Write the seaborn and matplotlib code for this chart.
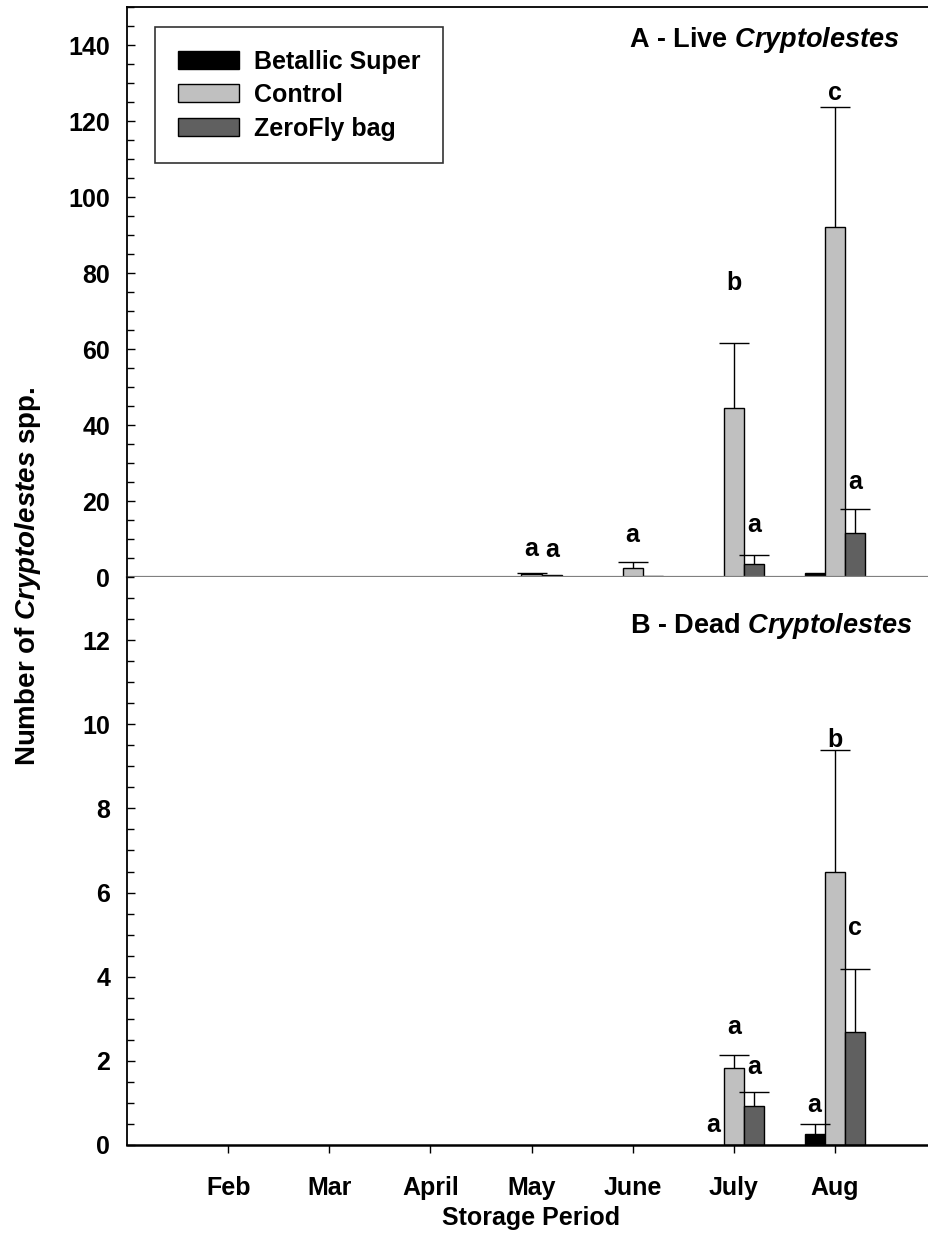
import numpy as np
import pandas as pd
import matplotlib
matplotlib.use("Agg")
import matplotlib.pyplot as plt
from matplotlib.container import BarContainer
from matplotlib.ticker import MultipleLocator
import seaborn as sns

# ---- data ------------------------------------------------------------------
months = ["Feb", "Mar", "April", "May", "June", "July", "Aug"]
treatments = ["Betallic Super", "Control", "ZeroFly bag"]

live_betallic = [0, 0, 0, 0, 0, 0, 1.0]
live_control = [0, 0, 0, 0.8, 2.4, 44.6, 92.1]
live_zerofly = [0, 0, 0, 0.4, 0.2, 3.3, 11.6]
live_betallic_se = [0, 0, 0, 0, 0, 0, 0]
live_control_se = [0, 0, 0, 0.2, 1.6, 16.9, 31.6]
live_zerofly_se = [0, 0, 0, 0, 0, 2.5, 6.3]

dead_betallic = [0, 0, 0, 0, 0, 0, 0.26]
dead_control = [0, 0, 0, 0, 0, 1.83, 6.5]
dead_zerofly = [0, 0, 0, 0, 0, 0.93, 2.68]
dead_betallic_se = [0, 0, 0, 0, 0, 0, 0.24]
dead_control_se = [0, 0, 0, 0, 0, 0.31, 2.88]
dead_zerofly_se = [0, 0, 0, 0, 0, 0.33, 1.5]

live_letters_betallic = ["", "", "", "", "", "", ""]
live_letters_control = ["", "", "", "a", "a", "b", "c"]
live_letters_zerofly = ["", "", "", "a", "", "a", "a"]
dead_letters_betallic = ["", "", "", "", "", "a", "a"]
dead_letters_control = ["", "", "", "", "", "a", "b"]
dead_letters_zerofly = ["", "", "", "", "", "a", "c"]

colors = {"Betallic Super": "#000000", "Control": "#c0c0c0", "ZeroFly bag": "#606060"}


def long_table(b, c, z):
    return pd.DataFrame({
        "month": months * 3,
        "treatment": np.repeat(treatments, len(months)),
        "value": list(b) + list(c) + list(z),
    })


live_df = long_table(live_betallic, live_control, live_zerofly)
dead_df = long_table(dead_betallic, dead_control, dead_zerofly)
live_se = [live_betallic_se, live_control_se, live_zerofly_se]
dead_se = [dead_betallic_se, dead_control_se, dead_zerofly_se]
live_letters = [live_letters_betallic, live_letters_control, live_letters_zerofly]
dead_letters = [dead_letters_betallic, dead_letters_control, dead_letters_zerofly]

# ---- style -----------------------------------------------------------------
sns.set_style("ticks")
plt.rcParams["font.family"] = ["Liberation Sans", "DejaVu Sans"]
plt.rcParams["font.weight"] = "bold"
plt.rcParams["text.color"] = "black"
plt.rcParams["axes.labelcolor"] = "black"
plt.rcParams["xtick.color"] = "black"
plt.rcParams["ytick.color"] = "black"
plt.rcParams["mathtext.fontset"] = "custom"
plt.rcParams["mathtext.rm"] = "Liberation Sans:bold"
plt.rcParams["mathtext.bf"] = "Liberation Sans:bold"
plt.rcParams["mathtext.it"] = "Liberation Sans:italic:bold"
FS = 18

W, H = 929, 1252
fig = plt.figure(figsize=(W / 100, H / 100), dpi=100)


def frac_box(left, right, top, bottom):
    return [left / W, 1 - bottom / H, (right - left) / W, (bottom - top) / H]


ax_live = fig.add_axes(frac_box(127, 936, 7, 577))
ax_dead = fig.add_axes(frac_box(127, 936, 577, 1145))


def draw_panel(ax, df, se, letters, offsets):
    sns.barplot(data=df, x="month", y="value", hue="treatment",
                order=months, hue_order=treatments, palette=colors,
                errorbar=None, width=0.6, edgecolor="black", linewidth=1.0,
                ax=ax, legend=True)
    bar_sets = [c for c in ax.containers if isinstance(c, BarContainer)]
    for hi, cont in enumerate(bar_sets):
        for mi, bar in enumerate(cont.patches):
            h = bar.get_height()
            if h == 0:
                bar.set_linewidth(0)
            xc = bar.get_x() + bar.get_width() / 2
            e = se[hi][mi]
            if e > 0:
                _, caps, _ = ax.errorbar([xc], [h], yerr=[[0], [e]],
                                         fmt="none", ecolor="black",
                                         elinewidth=1.0, capsize=11,
                                         capthick=1.0, zorder=3)
                caps[0].set_visible(False)  # upper whisker only
            lab = letters[hi][mi]
            if lab:
                off = offsets.get((hi, mi), 25)
                ax.annotate(lab, (xc, h + e), xytext=(0, off),
                            textcoords="offset pixels", ha="center",
                            va="center", fontsize=FS, fontweight="bold")
    ax.set_xlim(-1.0, 7.0)
    ax.set_xlabel("")
    ax.set_ylabel("")
    for s in ax.spines.values():
        s.set_linewidth(1.3)
        s.set_color("black")
    ax.tick_params(axis="y", which="major", direction="in", length=6,
                   width=1.0, labelsize=FS, pad=12, right=True, left=True)
    ax.tick_params(axis="y", which="minor", direction="in", length=5,
                   width=1.0, left=True, right=False)


draw_panel(ax_live, live_df, live_se, live_letters,
           {(1, 3): 24, (2, 3): 25, (1, 4): 27, (1, 5): 60, (2, 5): 30,
            (1, 6): 14, (2, 6): 27})
draw_panel(ax_dead, dead_df, dead_se, dead_letters,
           {(0, 5): 20, (1, 5): 28, (2, 5): 25, (0, 6): 19, (1, 6): 10,
            (2, 6): 41})

# live panel axes
ax_live.set_ylim(0, 150)
ax_live.yaxis.set_major_locator(MultipleLocator(20))
ax_live.yaxis.set_minor_locator(MultipleLocator(5))
ax_live.tick_params(axis="x", bottom=False, labelbottom=False)
ax_live.spines["bottom"].set_color("#808080")
ax_live.spines["bottom"].set_linewidth(1.6)

# dead panel axes
ax_dead.set_ylim(0, 13.5)
ax_dead.yaxis.set_major_locator(MultipleLocator(2))
ax_dead.yaxis.set_minor_locator(MultipleLocator(0.5))
ax_dead.spines["top"].set_visible(False)
ax_dead.tick_params(axis="x", direction="out", length=6, width=1.0,
                    labelsize=FS, pad=16)
ax_dead.spines["bottom"].set_linewidth(1.8)

# legend
handles, labels = ax_live.get_legend_handles_labels()
ax_dead.get_legend().remove()
ax_live.get_legend().remove()
leg = ax_live.legend(handles, labels, loc="upper left",
                     bbox_to_anchor=((155 - 127) / 809, 1 - (27 - 7) / 570),
                     borderaxespad=0, frameon=True, fancybox=False,
                     edgecolor="black", fontsize=FS, handlelength=2.45,
                     handleheight=0.75, handletextpad=0.6, labelspacing=0.38,
                     borderpad=0.9)
leg.get_frame().set_linewidth(1.2)
for t in leg.get_texts():
    t.set_fontweight("bold")

# panel titles and axis labels
fig.text(900 / W, 1 - 40 / H, r"A - Live $\mathit{Cryptolestes}$",
         ha="right", va="center", fontsize=FS + 1.5, fontweight="bold")
fig.text(913 / W, 1 - 626 / H, r"B - Dead $\mathit{Cryptolestes}$",
         ha="right", va="center", fontsize=FS + 1.5, fontweight="bold")
fig.text(28 / W, 1 - 576 / H, r"Number of $\mathit{Cryptolestes}$ spp.",
         rotation=90, ha="center", va="center", fontsize=FS + 2,
         fontweight="bold")
fig.text(531 / W, 1 - 1218 / H, "Storage Period", ha="center", va="center",
         fontsize=FS, fontweight="bold")

fig.savefig("out.png", dpi=100)
